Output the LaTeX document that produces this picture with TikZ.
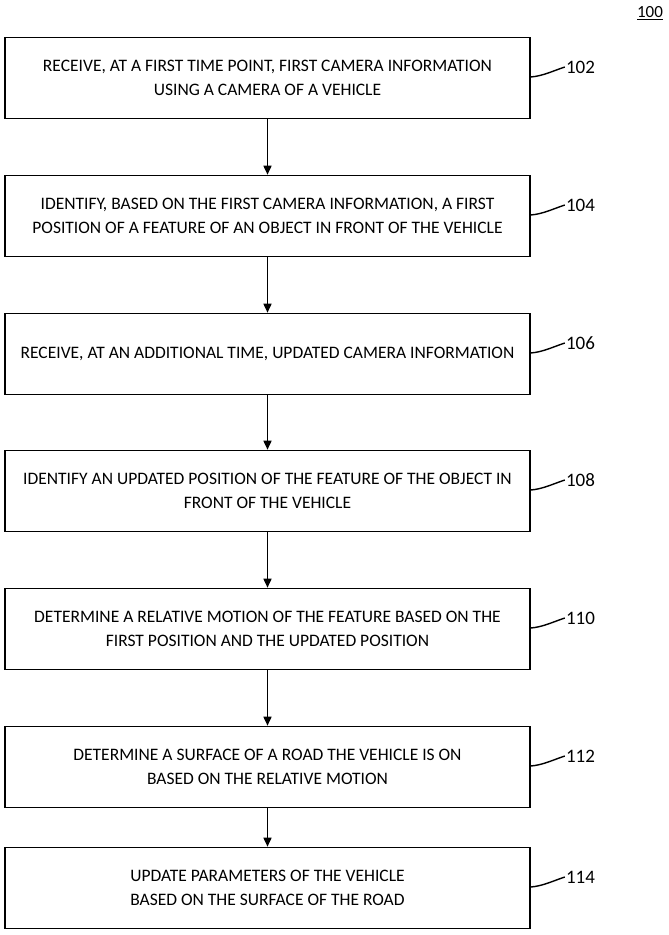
\documentclass[tikz,border=0pt]{standalone}
\usepackage{fontspec}
\setmainfont{Carlito}
\usetikzlibrary{arrows.meta}
\begin{document}
\begin{tikzpicture}[x=1pt,y=-1pt,
  box/.style={draw,line width=1.6pt,minimum width=525pt,minimum height=81pt,align=center,font=\fontsize{17.5}{24}\selectfont,inner sep=2pt},
  arr/.style={-{Triangle[length=9pt,width=8pt]},line width=1.6pt},
  lead/.style={line width=1.4pt},
  lab/.style={font=\fontsize{19}{22}\selectfont,anchor=west,inner sep=1pt}]
\useasboundingbox (0,0) rectangle (669,935);
\node[font=\fontsize{17}{19}\selectfont] (n100) at (650,13) {\underline{100}};
\node[box] (b1) at (267.5,78) {RECEIVE, AT A FIRST TIME POINT, FIRST CAMERA INFORMATION\\USING A CAMERA OF A VEHICLE};
\node[box] (b2) at (267.5,216) {IDENTIFY, BASED ON THE FIRST CAMERA INFORMATION, A FIRST\\POSITION OF A FEATURE OF AN OBJECT IN FRONT OF THE VEHICLE};
\node[box] (b3) at (267.5,354) {RECEIVE, AT AN ADDITIONAL TIME, UPDATED CAMERA INFORMATION};
\node[box] (b4) at (267.5,491) {IDENTIFY AN UPDATED POSITION OF THE FEATURE OF THE OBJECT IN\\FRONT OF THE VEHICLE};
\node[box] (b5) at (267.5,629) {DETERMINE A RELATIVE MOTION OF THE FEATURE BASED ON THE\\FIRST POSITION AND THE UPDATED POSITION};
\node[box] (b6) at (267.5,767) {DETERMINE A SURFACE OF A ROAD THE VEHICLE IS ON\\BASED ON THE RELATIVE MOTION};
\node[box] (b7) at (267.5,888) {UPDATE PARAMETERS OF THE VEHICLE\\BASED ON THE SURFACE OF THE ROAD};
\foreach \a/\b in {b1/b2,b2/b3,b3/b4,b4/b5,b5/b6,b6/b7}{\draw[arr] (\a) -- (\b);}
\foreach \b/\t in {b1/102,b2/104,b3/106,b4/108,b5/110,b6/112,b7/114}{
  \node[lab] (l\t) at ([xshift=34pt,yshift=11pt]\b.east) {\t};
  \draw[lead] ([yshift=1pt]\b.east) .. controls +(12,-1) and +(-12,4) .. (l\t.west);
}
\end{tikzpicture}
\end{document}
